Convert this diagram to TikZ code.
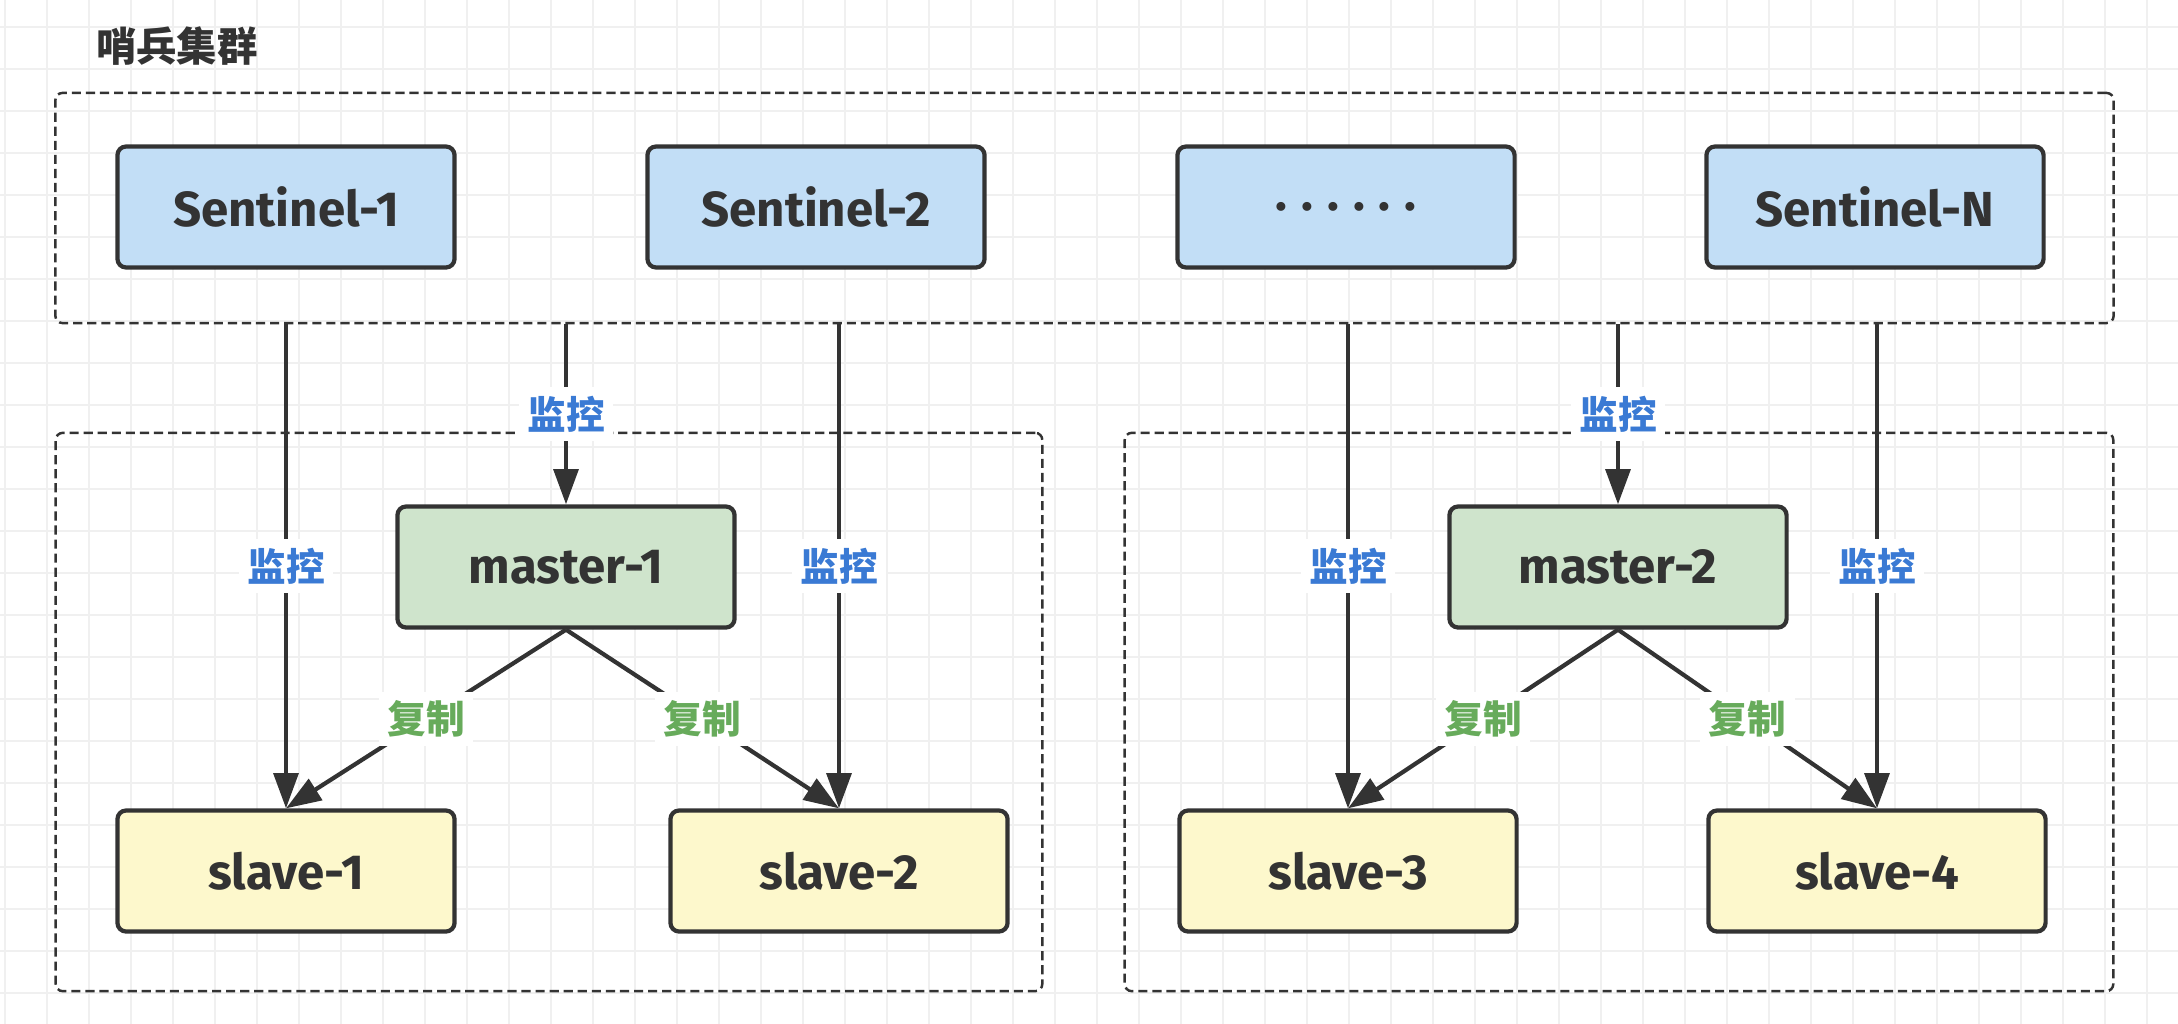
\documentclass[tikz,border=0pt]{standalone}
\usepackage{fontspec}
\setmainfont{Fira Sans}
\newfontfamily\cjk{Noto Sans CJK SC}
\usetikzlibrary{arrows.meta, positioning}
\definecolor{strokegray}{RGB}{51, 51, 51}
\definecolor{gridgray}{RGB}{240, 240, 240}
\definecolor{sentinelblue}{RGB}{194, 222, 246}
\definecolor{mastergreen}{RGB}{207, 228, 204}
\definecolor{slaveyellow}{RGB}{253, 248, 204}
\definecolor{monitorblue}{RGB}{58, 122, 212}
\definecolor{replgreen}{RGB}{103, 171, 91}

\begin{document}
\begin{tikzpicture}[x=0.01cm, y=-0.01cm,
        nodebox/.style={rectangle, rounded corners=2.5pt, draw=strokegray, line width=1.2pt, minimum width=3.37cm, minimum height=1.21cm, text=strokegray, font=\fontsize{14}{16}\selectfont\bfseries},
        sentinel/.style={nodebox, fill=sentinelblue},
        master/.style={nodebox, fill=mastergreen},
        slave/.style={nodebox, fill=slaveyellow},
        groupbox/.style={rectangle, rounded corners=2pt, draw=strokegray, line width=0.7pt, dash pattern=on 2.6pt off 1.4pt},
        link/.style={-{Triangle[length=10pt, width=7pt]}, draw=strokegray, line width=1.2pt},
        monitor/.style={fill=white, inner sep=2.5pt, text=monitorblue, font=\cjk\fontsize{11}{13}\selectfont\bfseries},
        repl/.style={monitor, text=replgreen}
    ]
        \useasboundingbox (0, 0) rectangle (2178, 1024);
        \foreach \gx in {0,...,51}
            \draw[gridgray, line width=0.6pt] ({5+42*\gx}, 0) -- ({5+42*\gx}, 1024);
        \foreach \gy in {0,...,24}
            \draw[gridgray, line width=0.6pt] (0, {26.7+42*\gy}) -- (2178, {26.7+42*\gy});

        \node[text=strokegray, font=\cjk\fontsize{11.5}{13}\selectfont\bfseries] (title) at (177, 46) {哨兵集群};

        \node[groupbox, minimum width=20.57cm, minimum height=2.30cm] (cluster) at (1084.5, 208) {};
        \node[groupbox, minimum width=9.86cm, minimum height=5.58cm] (groupa) at (549, 712) {};
        \node[groupbox, minimum width=9.88cm, minimum height=5.58cm] (groupb) at (1619, 712) {};

        \node[sentinel] (s1) at (286, 207) {Sentinel-1};
        \node[sentinel] (s2) at (816, 207) {Sentinel-2};
        \node[sentinel] (sdots) at (1346, 207) {.\kern4pt.\kern4pt.\kern4pt.\kern4pt.\kern4pt.};
        \node[sentinel] (sn) at (1875, 207) {Sentinel-N};

        \node[master] (m1) at (566, 567) {master-1};
        \node[master] (m2) at (1618, 567) {master-2};

        \node[slave] (r1) at (286, 871) {slave-1};
        \node[slave] (r2) at (839, 871) {slave-2};
        \node[slave] (r3) at (1348, 871) {slave-3};
        \node[slave] (r4) at (1877, 871) {slave-4};

        \draw[link] (r1 |- cluster.south) -- node[monitor] {监控} (r1.north);
        \draw[link] (m1 |- cluster.south) -- node[monitor] {监控} (m1.north);
        \draw[link] (r2 |- cluster.south) -- node[monitor] {监控} (r2.north);
        \draw[link] (r3 |- cluster.south) -- node[monitor] {监控} (r3.north);
        \draw[link] (m2 |- cluster.south) -- node[monitor] {监控} (m2.north);
        \draw[link] (r4 |- cluster.south) -- node[monitor] {监控} (r4.north);

        \draw[link] (m1.south) -- node[repl] {复制} (r1.north);
        \draw[link] (m1.south) -- node[repl] {复制} (r2.north);
        \draw[link] (m2.south) -- node[repl] {复制} (r3.north);
        \draw[link] (m2.south) -- node[repl] {复制} (r4.north);
    \end{tikzpicture}
\end{document}
